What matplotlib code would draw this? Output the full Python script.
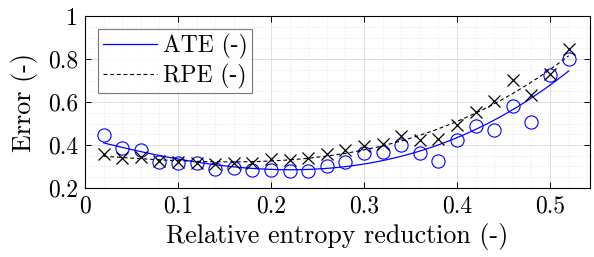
import matplotlib

matplotlib.use("Agg")
import matplotlib.pyplot as plt
import numpy as np
from matplotlib.ticker import MultipleLocator

# relative entropy reduction (x) and the two error series
reduction = [0.02, 0.04, 0.06, 0.08, 0.10, 0.12, 0.14, 0.16, 0.18, 0.20, 0.22, 0.24, 0.26,
             0.28, 0.30, 0.32, 0.34, 0.36, 0.38, 0.40, 0.42, 0.44, 0.46, 0.48, 0.50, 0.52]
ate = [0.447, 0.385, 0.377, 0.320, 0.315, 0.315, 0.287, 0.295, 0.284, 0.284, 0.279, 0.280, 0.304,
       0.322, 0.361, 0.369, 0.400, 0.364, 0.326, 0.423, 0.488, 0.470, 0.581, 0.508, 0.724, 0.799]
rpe = [0.358, 0.338, 0.343, 0.327, 0.319, 0.318, 0.312, 0.315, 0.318, 0.333, 0.330, 0.338, 0.358,
       0.377, 0.397, 0.405, 0.442, 0.423, 0.426, 0.493, 0.555, 0.605, 0.702, 0.633, 0.730, 0.845]

FS = 17
LABEL_FS = 18.7

plt.rcParams.update(
    {
        "font.family": "cmr10",
        "mathtext.fontset": "cm",
        "axes.formatter.use_mathtext": True,
        "font.size": FS,
        "axes.linewidth": 0.8,
    }
)

fig = plt.figure(figsize=(5.94, 2.57), dpi=100)
ax = fig.add_axes([0.1431, 0.2685, 0.8502, 0.6692])

x = np.asarray(reduction)
xs = np.linspace(x.min(), x.max(), 200)
ate_fit = np.polyval(np.polyfit(x, ate, 3), xs)
rpe_fit = np.polyval(np.polyfit(x, rpe, 3), xs)

ax.plot(xs, ate_fit, color="#0000ff", linewidth=0.9, label="ATE (-)")
ax.plot(xs, rpe_fit, color="black", linestyle=(0, (3.5, 2.5)), linewidth=0.8, label="RPE (-)")
ax.plot(x, ate, "o", markerfacecolor="none", markeredgecolor="#0000ff",
        markersize=9.5, markeredgewidth=0.8)
ax.plot(x, rpe, "x", color="black", markersize=8, markeredgewidth=0.9)

ax.set_xlim(0, 0.543)
ax.set_ylim(0.2, 1.0)
ax.xaxis.set_minor_locator(MultipleLocator(0.02))
ax.yaxis.set_minor_locator(MultipleLocator(0.05))
ax.set_xticks([0, 0.1, 0.2, 0.3, 0.4, 0.5])
ax.set_xticklabels(["0", "0.1", "0.2", "0.3", "0.4", "0.5"])
ax.set_yticks([0.2, 0.4, 0.6, 0.8, 1.0])
ax.set_yticklabels(["0.2", "0.4", "0.6", "0.8", "1"])

ax.grid(which="major", color="#d9d9d9", linewidth=0.6)
ax.grid(which="minor", color="#e3e3e3", linestyle=(0, (1, 1.5)), linewidth=0.6)
ax.set_axisbelow(True)
ax.tick_params(which="major", direction="in", length=4, width=0.7, top=True, right=True,
               labelsize=FS, pad=5)
ax.tick_params(which="minor", length=0, top=True, right=True)

ax.set_xlabel("Relative entropy reduction (-)", fontsize=LABEL_FS, labelpad=4)
ax.set_ylabel("Error (-)", fontsize=LABEL_FS, labelpad=7)

leg = ax.legend(loc="upper left", fontsize=FS, frameon=True, fancybox=False,
                borderpad=0.2, handlelength=2.3, handletextpad=0.25, labelspacing=0.2,
                borderaxespad=0.55)
leg.get_frame().set_edgecolor("#555555")
leg.get_frame().set_linewidth(0.8)

fig.savefig("out.png", dpi=100)
plt.close(fig)
